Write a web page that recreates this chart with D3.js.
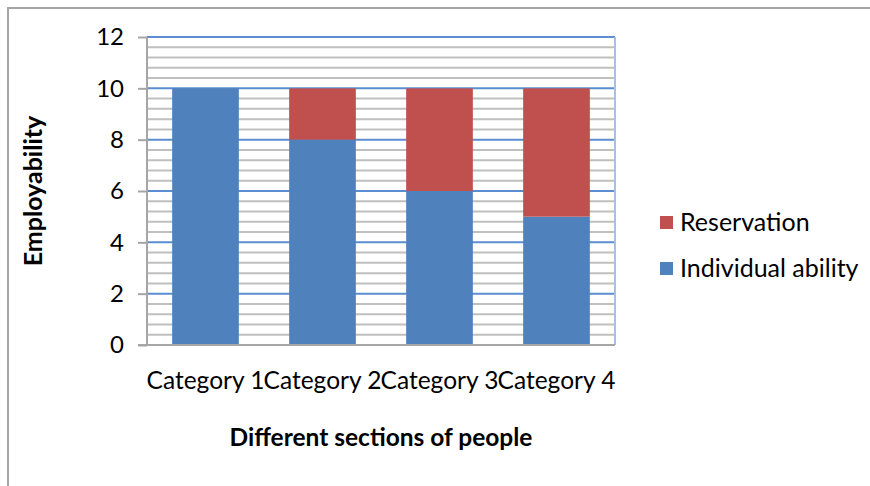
<!DOCTYPE html>
<html>
<head>
<meta charset="utf-8">
<script src="https://cdn.jsdelivr.net/npm/d3@7"></script>
<style>
  body { margin: 0; background: #fff; }
  svg { display: block; font-family: Lato, "Open Sans", sans-serif; }
</style>
</head>
<body>
<svg id="chart" width="870" height="486"></svg>
<script>
var categories = ["Category 1", "Category 2", "Category 3", "Category 4"];
var individualAbility = [10, 8, 6, 5];
var reservation = [0, 2, 4, 5];
var seriesNames = ["Individual ability", "Reservation"];
var seriesColors = ["#4f81bd", "#c0504d"];
var yTicks = [0, 2, 4, 6, 8, 10, 12];

var svg = d3.select("#chart"),
    margin = {top: 37, right: 255, bottom: 141, left: 147},
    width = 870 - margin.left - margin.right,
    height = 486 - margin.top - margin.bottom;

// outer frame
svg.append("path")
    .attr("d", "M8,486V8H870")
    .attr("fill", "none")
    .attr("stroke", "#a6a6a6")
    .attr("stroke-width", 2);

var g = svg.append("g")
    .attr("transform", "translate(" + margin.left + "," + margin.top + ")");

var x = d3.scaleBand().domain(categories).range([0, width]).paddingInner(0.43).paddingOuter(0.215);
var y = d3.scaleLinear().domain([0, 12]).range([height, 0]);

// minor gridlines every 0.4
var minor = d3.range(0, 12.01, 0.4).filter(function(v) { return Math.abs(v / 2 - Math.round(v / 2)) > 0.01; });
g.selectAll(".minor")
    .data(minor)
    .enter().append("line")
    .attr("x1", 0).attr("x2", width)
    .attr("y1", function(d) { return y(d); })
    .attr("y2", function(d) { return y(d); })
    .attr("stroke", "#bfbfbf")
    .attr("stroke-width", 2);

g.selectAll(".major")
    .data(yTicks.filter(function(d) { return d > 0; }))
    .enter().append("line")
    .attr("x1", 0).attr("x2", width)
    .attr("y1", function(d) { return y(d); })
    .attr("y2", function(d) { return y(d); })
    .attr("stroke", "#5b8ed0")
    .attr("stroke-width", 2);

// plot border right side
g.append("line")
    .attr("x1", width).attr("x2", width)
    .attr("y1", 0).attr("y2", height)
    .attr("stroke", "#a6c1e6")
    .attr("stroke-width", 2);

var stacked = d3.stack().keys([0, 1]).value(function(d, k) { return d[k]; })(
    categories.map(function(c, i) { return [individualAbility[i], reservation[i]]; }));

g.selectAll(".series")
    .data(stacked)
    .enter().append("g")
    .attr("fill", function(d, i) { return seriesColors[i]; })
    .selectAll("rect")
    .data(function(d) { return d; })
    .enter().append("rect")
    .attr("x", function(d, i) { return x(categories[i]); })
    .attr("y", function(d) { return y(d[1]); })
    .attr("width", x.bandwidth())
    .attr("height", function(d) { return y(d[0]) - y(d[1]); });

// y axis
var yAxis = g.append("g")
    .call(d3.axisLeft(y).tickValues(yTicks).tickSize(9).tickPadding(14));
yAxis.select(".domain").attr("stroke", "#a6a6a6").attr("stroke-width", 2).attr("d", "M0," + height + "V0");
yAxis.selectAll(".tick line").attr("stroke", "#a6a6a6").attr("stroke-width", 2);
yAxis.selectAll(".tick text").attr("font-size", 24).attr("fill", "#000").style("font-family", "Lato");

// x axis
var xAxis = g.append("g")
    .attr("transform", "translate(0," + height + ")")
    .call(d3.axisBottom(x).tickSize(0).tickPadding(27));
xAxis.select(".domain").attr("stroke", "#a6a6a6").attr("stroke-width", 2).attr("d", "M-9,0H" + width);
xAxis.selectAll(".tick text").attr("font-size", 24.5).attr("fill", "#000").style("font-family", "Lato");

// axis titles
svg.append("text")
    .attr("transform", "translate(42,191) rotate(-90)")
    .attr("text-anchor", "middle")
    .attr("font-size", 25)
    .attr("font-weight", "bold")
    .text("Employability");

svg.append("text")
    .attr("x", 381)
    .attr("y", 446)
    .attr("text-anchor", "middle")
    .attr("font-size", 24.5)
    .attr("font-weight", "bold")
    .text("Different sections of people");

// legend
var legendItems = [1, 0];
var legend = svg.selectAll(".legend")
    .data(legendItems)
    .enter().append("g")
    .attr("transform", function(d, i) { return "translate(660," + (216 + i * 46) + ")"; });

legend.append("rect")
    .attr("width", 13).attr("height", 13)
    .attr("fill", function(d) { return seriesColors[d]; });

legend.append("text")
    .attr("x", 20)
    .attr("y", 6.5)
    .attr("dy", "0.35em")
    .attr("font-size", 25)
    .text(function(d) { return seriesNames[d]; });
</script>
</body>
</html>
